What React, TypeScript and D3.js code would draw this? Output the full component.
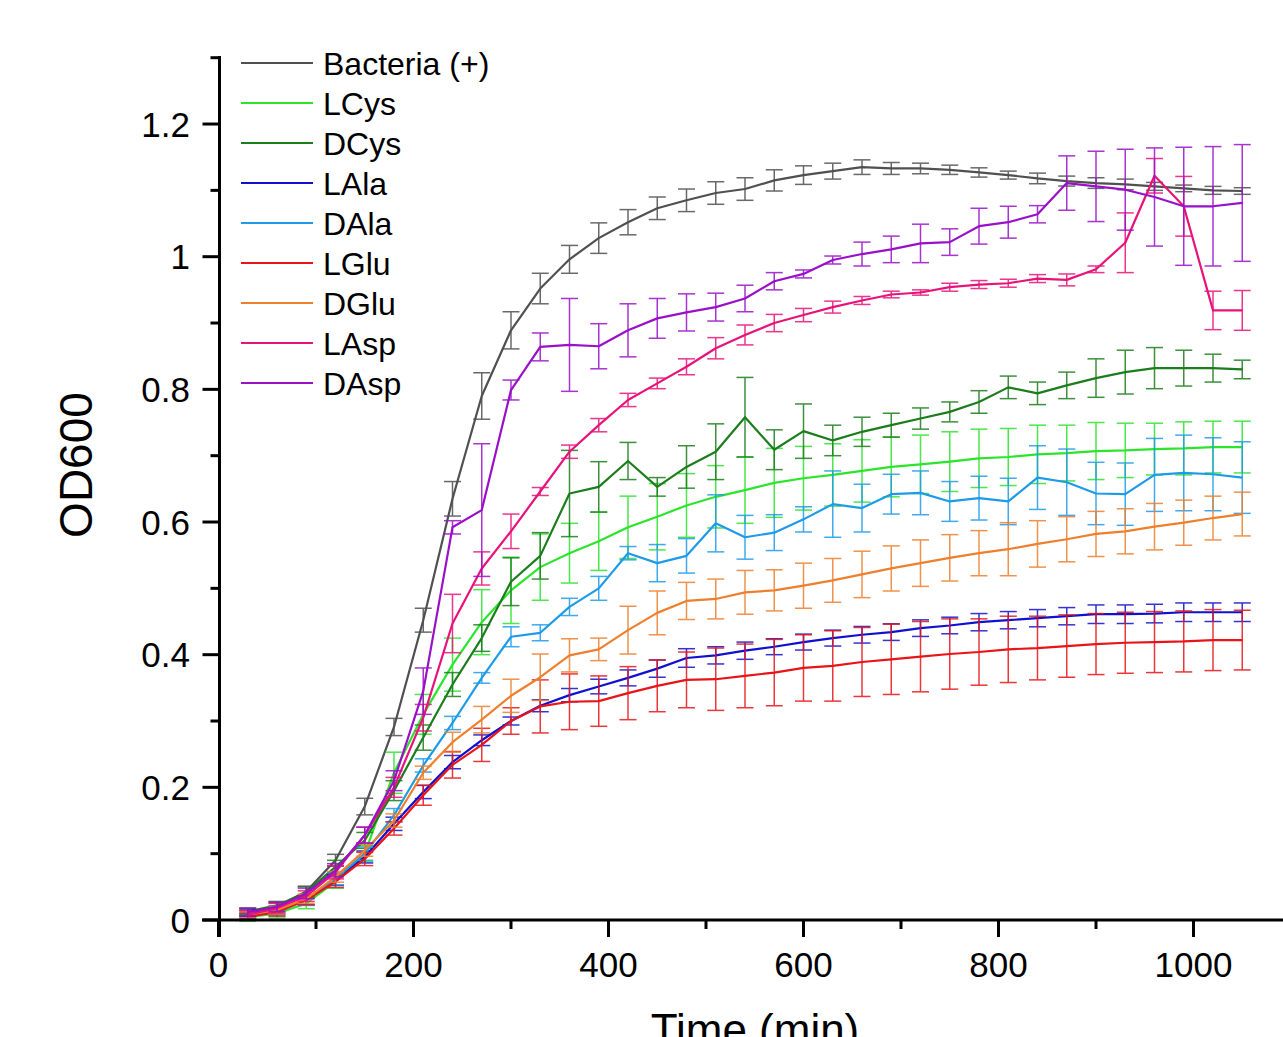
import React from "react";
import * as d3 from "d3";

const times = [30,60,90,120,150,180,210,240,270,300,330,360,390,420,450,480,510,540,570,600,630,660,690,720,750,780,810,840,870,900,930,960,990,1020,1050];

const bacteria = [0.012,0.02,0.043,0.09,0.171,0.291,0.452,0.635,0.790,0.889,0.952,0.996,1.028,1.052,1.073,1.085,1.096,1.102,1.115,1.123,1.129,1.135,1.133,1.133,1.131,1.127,1.123,1.118,1.114,1.111,1.109,1.106,1.103,1.100,1.099];
const bacteriaErr = [0.005,0.006,0.008,0.009,0.0125,0.013,0.018,0.026,0.035,0.028,0.023,0.021,0.023,0.019,0.017,0.017,0.017,0.017,0.016,0.014,0.012,0.011,0.009,0.008,0.007,0.007,0.006,0.008,0.0075,0.008,0.008,0.006,0.005,0.006,0.005];

const lCys = [0.004,0.01,0.025,0.058,0.10,0.222,0.31,0.385,0.449,0.497,0.532,0.553,0.571,0.592,0.608,0.625,0.638,0.648,0.659,0.666,0.671,0.677,0.683,0.687,0.691,0.696,0.698,0.702,0.704,0.707,0.708,0.710,0.711,0.713,0.713];
const lCysErr = [0.006,0.007,0.008,0.01,0.012,0.031,0.03,0.04,0.049,0.05,0.05,0.045,0.044,0.047,0.05,0.048,0.047,0.05,0.052,0.048,0.047,0.047,0.045,0.044,0.045,0.044,0.043,0.044,0.042,0.043,0.041,0.039,0.04,0.039,0.039];

const dCys = [0.013,0.022,0.042,0.08,0.12,0.195,0.275,0.355,0.425,0.510,0.549,0.643,0.653,0.692,0.653,0.683,0.706,0.758,0.709,0.737,0.723,0.736,0.746,0.756,0.766,0.781,0.803,0.794,0.806,0.817,0.826,0.832,0.832,0.832,0.830];
const dCysErr = [0.005,0.006,0.008,0.01,0.012,0.015,0.019,0.018,0.02,0.036,0.035,0.065,0.038,0.028,0.014,0.032,0.042,0.06,0.03,0.041,0.023,0.022,0.018,0.016,0.015,0.017,0.017,0.017,0.02,0.029,0.033,0.031,0.027,0.021,0.014];

const lAla = [0.01,0.015,0.03,0.06,0.095,0.145,0.193,0.238,0.271,0.300,0.323,0.339,0.352,0.365,0.379,0.395,0.399,0.406,0.412,0.419,0.425,0.430,0.434,0.440,0.444,0.449,0.452,0.455,0.458,0.461,0.461,0.462,0.464,0.464,0.464];
const lAlaErr = [0.005,0.006,0.007,0.008,0.009,0.01,0.01,0.01,0.008,0.006,0.009,0.01,0.011,0.012,0.013,0.014,0.013,0.013,0.012,0.012,0.012,0.0125,0.0125,0.0125,0.0125,0.013,0.013,0.013,0.013,0.014,0.014,0.014,0.014,0.014,0.014];

const dAla = [0.006,0.012,0.03,0.062,0.10,0.158,0.233,0.297,0.365,0.427,0.433,0.472,0.500,0.553,0.538,0.549,0.598,0.577,0.584,0.604,0.627,0.621,0.642,0.644,0.631,0.636,0.631,0.667,0.660,0.643,0.642,0.671,0.674,0.672,0.667];
const dAlaErr = [0.005,0.006,0.008,0.009,0.01,0.01,0.01,0.01,0.008,0.015,0.012,0.013,0.018,0.01,0.028,0.026,0.043,0.033,0.027,0.019,0.05,0.036,0.03,0.033,0.03,0.033,0.035,0.048,0.05,0.047,0.047,0.055,0.057,0.055,0.054];

const lGlu = [0.005,0.012,0.03,0.058,0.092,0.138,0.188,0.234,0.264,0.300,0.322,0.329,0.330,0.342,0.353,0.362,0.363,0.368,0.373,0.380,0.383,0.389,0.393,0.397,0.401,0.404,0.408,0.410,0.413,0.416,0.418,0.419,0.420,0.422,0.422];
const lGluErr = [0.005,0.006,0.007,0.009,0.01,0.01,0.015,0.02,0.025,0.02,0.04,0.042,0.038,0.04,0.039,0.042,0.047,0.048,0.05,0.05,0.053,0.052,0.053,0.053,0.053,0.05,0.05,0.048,0.047,0.046,0.046,0.046,0.046,0.046,0.045];

const dGlu = [0.008,0.015,0.032,0.065,0.105,0.15,0.222,0.268,0.302,0.338,0.366,0.399,0.408,0.437,0.463,0.481,0.484,0.494,0.497,0.504,0.512,0.521,0.530,0.538,0.546,0.553,0.559,0.567,0.574,0.582,0.586,0.593,0.599,0.606,0.612];
const dGluErr = [0.005,0.006,0.007,0.008,0.009,0.01,0.01,0.015,0.02,0.025,0.035,0.025,0.017,0.036,0.033,0.028,0.03,0.033,0.031,0.034,0.033,0.035,0.034,0.035,0.035,0.034,0.04,0.035,0.034,0.034,0.034,0.035,0.034,0.033,0.033];

const lAsp = [0.008,0.018,0.036,0.072,0.128,0.20,0.305,0.447,0.530,0.586,0.646,0.706,0.746,0.784,0.809,0.834,0.862,0.882,0.900,0.912,0.924,0.934,0.943,0.946,0.954,0.958,0.960,0.967,0.965,0.981,1.021,1.122,1.076,0.919,0.919];
const lAspErr = [0.006,0.007,0.008,0.01,0.012,0.015,0.02,0.044,0.025,0.026,0.006,0.01,0.01,0.01,0.008,0.012,0.016,0.015,0.013,0.01,0.009,0.006,0.005,0.004,0.006,0.006,0.006,0.006,0.009,0.005,0.045,0.026,0.045,0.029,0.03];

const dAsp = [0.012,0.02,0.04,0.075,0.128,0.21,0.345,0.592,0.618,0.799,0.864,0.867,0.865,0.889,0.907,0.916,0.924,0.937,0.963,0.974,0.995,1.004,1.011,1.020,1.022,1.046,1.052,1.064,1.111,1.106,1.101,1.090,1.076,1.076,1.081];
const dAspErr = [0.006,0.007,0.008,0.01,0.012,0.015,0.035,0.01,0.1,0.015,0.021,0.07,0.034,0.04,0.03,0.028,0.021,0.02,0.013,0.006,0.006,0.018,0.02,0.029,0.02,0.027,0.024,0.013,0.041,0.053,0.061,0.074,0.089,0.09,0.088];

const seriesNames = ["Bacteria (+)","LCys","DCys","LAla","DAla","LGlu","DGlu","LAsp","DAsp"];
const seriesColors = ["#505050","#2BE52B","#1B7D1B","#1010D0","#1E9BE8","#E81418","#EE7F2D","#E8137A","#9A10C8"];
const seriesValues = [bacteria,lCys,dCys,lAla,dAla,lGlu,dGlu,lAsp,dAsp];
const seriesErrors = [bacteriaErr,lCysErr,dCysErr,lAlaErr,dAlaErr,lGluErr,dGluErr,lAspErr,dAspErr];

const xTickValues = [0,200,400,600,800,1000];
const xMinorValues = [100,300,500,700,900,1100];
const yTickValues = [0,0.2,0.4,0.6,0.8,1,1.2];
const yMinorValues = [0.1,0.3,0.5,0.7,0.9,1.1,1.3];

export default function App() {
  const W = 1283, H = 1037;
  const x = d3.scaleLinear().domain([0, 1100]).range([218.5, 1291]);
  const y = d3.scaleLinear().domain([0, 1.3]).range([920, 57.7]);
  const line = d3.line<number>().x((_, i) => x(times[i])).y((d) => y(d));
  const font = "'Liberation Sans', Arial, sans-serif";
  const axisX = 219.5;
  const axisY = 920;
  return (
    <svg width={W} height={H} style={{ position: "absolute", left: 0, top: 0, background: "#fff" }} fontFamily={font}>
      <rect x={0} y={0} width={W} height={H} fill="#fff" />
      {seriesValues.map((vals, s) => (
        <g key={s}>
          {vals.map((v, i) => {
            const e = seriesErrors[s][i];
            const cx = x(times[i]);
            return (
              <g key={i} stroke={seriesColors[s]} strokeWidth={1.5} opacity={0.85}>
                <line x1={cx} x2={cx} y1={y(v - e)} y2={y(v + e)} />
                <line x1={cx - 8.5} x2={cx + 8.5} y1={y(v - e)} y2={y(v - e)} />
                <line x1={cx - 8.5} x2={cx + 8.5} y1={y(v + e)} y2={y(v + e)} />
              </g>
            );
          })}
          <path d={line(vals) || ""} fill="none" stroke={seriesColors[s]} strokeWidth={2.2} strokeLinejoin="round" />
        </g>
      ))}
      {/* axes */}
      <g stroke="#000" strokeWidth={3}>
        <line x1={axisX} x2={axisX} y1={56} y2={937} />
        <line x1={202} x2={W} y1={axisY} y2={axisY} />
        {xTickValues.map((t) => (
          <line key={"xt" + t} x1={x(t)} x2={x(t)} y1={axisY} y2={axisY + 17} />
        ))}
        {xMinorValues.map((t) => (
          <line key={"xm" + t} x1={x(t)} x2={x(t)} y1={axisY} y2={axisY + 9} />
        ))}
        {yTickValues.map((t) => (
          <line key={"yt" + t} x1={axisX - 17} x2={axisX} y1={y(t)} y2={y(t)} />
        ))}
        {yMinorValues.map((t) => (
          <line key={"ym" + t} x1={axisX - 9} x2={axisX} y1={y(t)} y2={y(t)} />
        ))}
      </g>
      {xTickValues.map((t) => (
        <text key={"xl" + t} x={x(t)} y={977} fontSize={35} textAnchor="middle" fill="#000">{String(t)}</text>
      ))}
      {yTickValues.map((t) => (
        <text key={"yl" + t} x={190} y={y(t) + 12.5} fontSize={35} textAnchor="end" fill="#000">{String(+t.toFixed(1))}</text>
      ))}
      <text x={92} y={465} fontSize={46} textAnchor="middle" fill="#000" transform="rotate(-90 92 465)">OD600</text>
      <text x={755} y={1045} fontSize={44} textAnchor="middle" fill="#000">Time (min)</text>
      {/* legend */}
      {seriesNames.map((name, i) => (
        <g key={"lg" + i}>
          <line x1={241} x2={313} y1={63 + 40 * i} y2={63 + 40 * i} stroke={seriesColors[i]} strokeWidth={2} />
          <text x={323} y={63 + 40 * i + 11.5} fontSize={32} fill="#000">{name}</text>
        </g>
      ))}
    </svg>
  );
}
